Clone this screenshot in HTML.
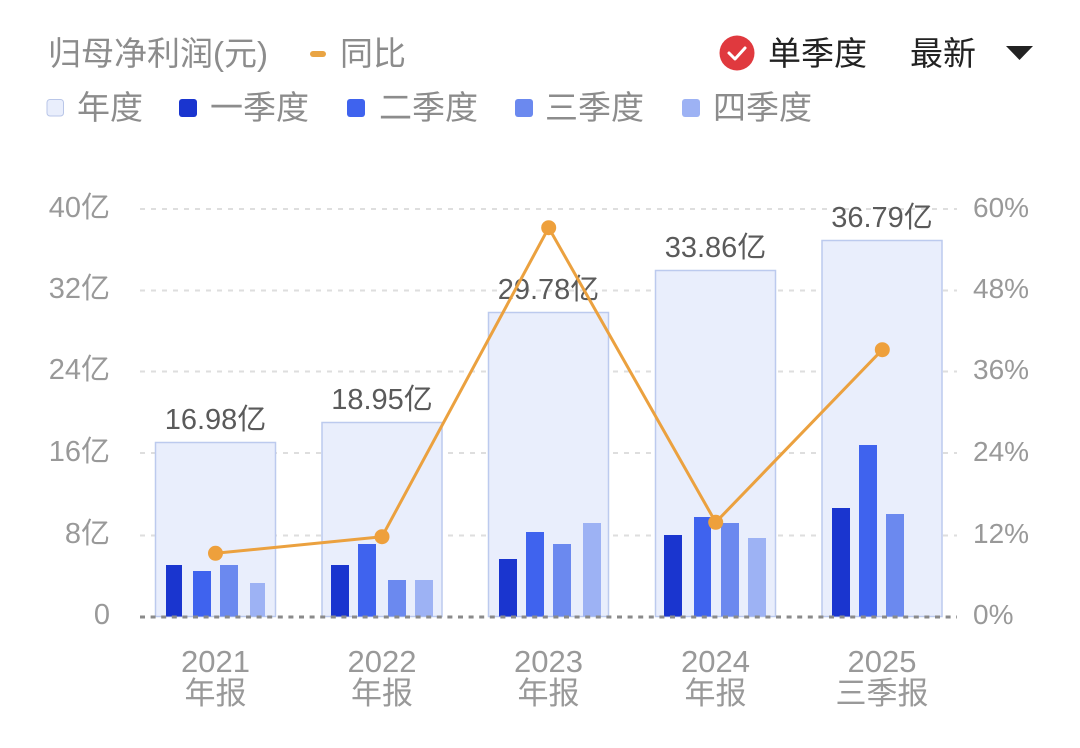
<!DOCTYPE html>
<html><head><meta charset="utf-8"><style>
html,body{margin:0;padding:0;background:#fff;}
svg{display:block;}
text{font-family:"Liberation Sans","Noto Sans CJK SC",sans-serif;}
</style></head><body>
<svg width="1080" height="748" viewBox="0 0 1080 748" xmlns="http://www.w3.org/2000/svg">
<rect width="1080" height="748" fill="#fff"/>
<!-- legend row 1 -->
<text x="48" y="65" font-size="33" fill="#8c8c8c">归母净利润(元)</text>
<rect x="310" y="51" width="16" height="6" rx="3" fill="#e9a443"/>
<text x="340" y="65" font-size="33" fill="#8c8c8c">同比</text>
<circle cx="737" cy="53" r="17.5" fill="#e0393e"/>
<path d="M729 53 L735 59 L745 48" stroke="#fff" stroke-width="3" fill="none" stroke-linecap="round" stroke-linejoin="round"/>
<text x="768" y="65" font-size="33" fill="#222">单季度</text>
<text x="910" y="65" font-size="33" fill="#222">最新</text>
<path d="M1006 46 L1033 46 L1019.5 60 Z" fill="#222"/>
<!-- legend row 2 -->
<rect x="47" y="99.5" width="16.5" height="16.5" rx="3" fill="#e9eefc" stroke="#b9c6e8" stroke-width="1"/>
<text x="77" y="119" font-size="33" fill="#8c8c8c">年度</text>
<rect x="179" y="99" width="18" height="18" rx="3" fill="#1a35cf"/>
<text x="210" y="119" font-size="33" fill="#8c8c8c">一季度</text>
<rect x="347" y="99" width="18" height="18" rx="3" fill="#3f63ee"/>
<text x="379" y="119" font-size="33" fill="#8c8c8c">二季度</text>
<rect x="515" y="99" width="18" height="18" rx="3" fill="#6b89ef"/>
<text x="545" y="119" font-size="33" fill="#8c8c8c">三季度</text>
<rect x="682" y="99" width="18" height="18" rx="3" fill="#9db2f4"/>
<text x="713" y="119" font-size="33" fill="#8c8c8c">四季度</text>

<!-- gridlines -->
<g stroke="#dedede" stroke-width="2" stroke-dasharray="5 6">
<line x1="140" y1="209" x2="957" y2="209"/>
<line x1="140" y1="290.5" x2="957" y2="290.5"/>
<line x1="140" y1="371.5" x2="957" y2="371.5"/>
<line x1="140" y1="453" x2="957" y2="453"/>
<line x1="140" y1="535.5" x2="957" y2="535.5"/>
</g>
<!-- left axis labels -->
<g font-size="29" fill="#999" text-anchor="end">
<text x="110" y="217">40亿</text>
<text x="110" y="298">32亿</text>
<text x="110" y="379">24亿</text>
<text x="110" y="461">16亿</text>
<text x="110" y="543">8亿</text>
<text x="110" y="624">0</text>
</g>
<!-- right axis labels -->
<g font-size="28" fill="#999">
<text x="973" y="217">60%</text>
<text x="973" y="298">48%</text>
<text x="973" y="379">36%</text>
<text x="973" y="461">24%</text>
<text x="973" y="543">12%</text>
<text x="973" y="624">0%</text>
</g>

<!-- year boxes -->
<g fill="#e9eefc" stroke="#bccaee" stroke-width="1.5">
<rect x="155.5" y="442.5" width="120" height="174"/>
<rect x="322" y="422.5" width="120" height="194"/>
<rect x="488.5" y="312.5" width="120" height="304"/>
<rect x="655.5" y="270.5" width="120" height="346"/>
<rect x="822" y="240.5" width="120" height="376"/>
</g>
<!-- quarter bars -->
<g>
<rect x="166" y="565" width="16" height="51.5" fill="#1a35cf"/>
<rect x="193" y="571" width="18" height="45.5" fill="#3f63ee"/>
<rect x="220" y="565" width="18" height="51.5" fill="#6b89ef"/>
<rect x="250" y="583" width="15" height="33.5" fill="#9db2f4"/>
<rect x="331" y="565" width="18" height="51.5" fill="#1a35cf"/>
<rect x="358" y="544" width="18" height="72.5" fill="#3f63ee"/>
<rect x="388" y="580" width="18" height="36.5" fill="#6b89ef"/>
<rect x="415" y="580" width="18" height="36.5" fill="#9db2f4"/>
<rect x="499" y="559" width="18" height="57.5" fill="#1a35cf"/>
<rect x="526" y="532" width="18" height="84.5" fill="#3f63ee"/>
<rect x="553" y="544" width="18" height="72.5" fill="#6b89ef"/>
<rect x="583" y="523" width="18" height="93.5" fill="#9db2f4"/>
<rect x="664" y="535" width="18" height="81.5" fill="#1a35cf"/>
<rect x="694" y="517" width="17" height="99.5" fill="#3f63ee"/>
<rect x="721" y="523" width="18" height="93.5" fill="#6b89ef"/>
<rect x="748" y="538" width="18" height="78.5" fill="#9db2f4"/>
<rect x="832" y="508" width="18" height="108.5" fill="#1a35cf"/>
<rect x="859" y="445" width="18" height="171.5" fill="#3f63ee"/>
<rect x="886" y="514" width="18" height="102.5" fill="#6b89ef"/>
</g>
<!-- baseline -->
<line x1="140" y1="617" x2="957" y2="617" stroke="#8a8a8a" stroke-width="3" stroke-dasharray="5 5.6"/>

<!-- value labels -->
<g font-size="29" fill="#5a5a5a" text-anchor="middle">
<text x="215.5" y="429">16.98亿</text>
<text x="382" y="409">18.95亿</text>
<text x="548.5" y="299">29.78亿</text>
<text x="715.5" y="257">33.86亿</text>
<text x="882" y="227">36.79亿</text>
</g>

<!-- line -->
<polyline points="215.5,553.3 382,536.7 548.7,227.7 715.7,522.3 882.3,349.7" fill="none" stroke="#eba13f" stroke-width="3" stroke-linejoin="round"/>
<g fill="#eea03c">
<circle cx="215.5" cy="553.3" r="7.5"/>
<circle cx="382" cy="536.7" r="7.5"/>
<circle cx="548.7" cy="227.7" r="7.5"/>
<circle cx="715.7" cy="522.3" r="7.5"/>
<circle cx="882.3" cy="349.7" r="7.5"/>
</g>

<!-- x labels -->
<g font-size="31" fill="#999" text-anchor="middle">
<text x="215.5" y="672">2021</text>
<text x="215.5" y="704">年报</text>
<text x="382" y="672">2022</text>
<text x="382" y="704">年报</text>
<text x="548.5" y="672">2023</text>
<text x="548.5" y="704">年报</text>
<text x="715.5" y="672">2024</text>
<text x="715.5" y="704">年报</text>
<text x="882" y="672">2025</text>
<text x="882" y="704">三季报</text>
</g>
</svg>
</body></html>
